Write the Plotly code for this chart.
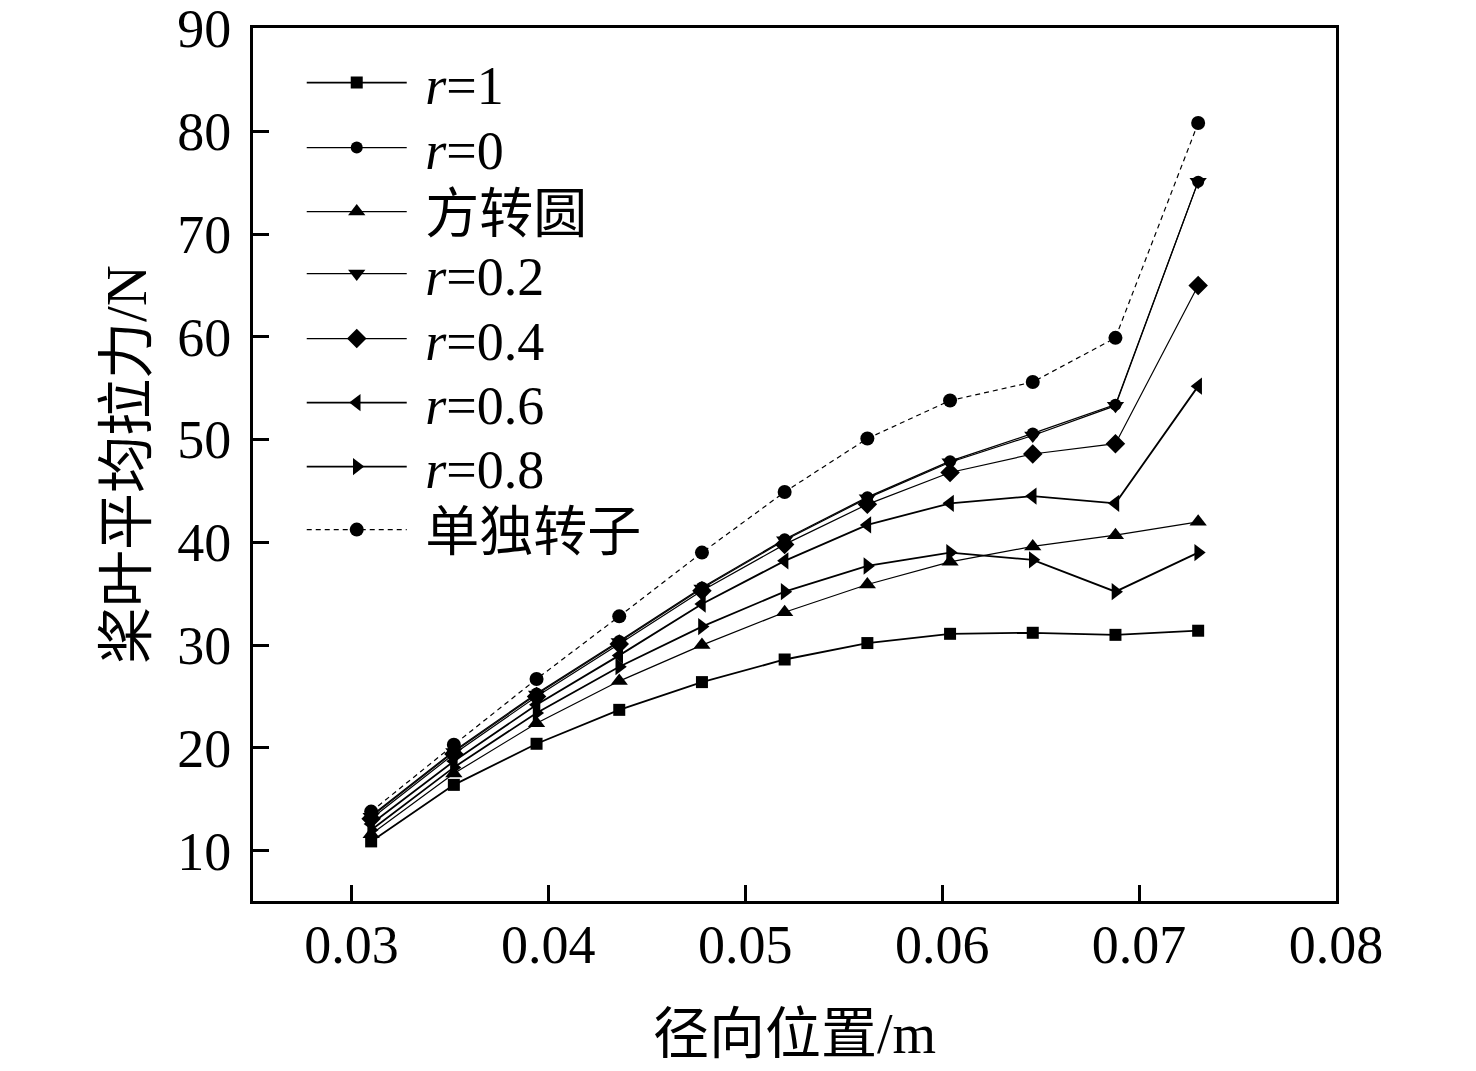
import plotly.graph_objects as go

# radial position (m)
radius = [0.031, 0.0352, 0.0394, 0.0436, 0.0478, 0.052, 0.0562, 0.0604, 0.0646, 0.0688, 0.073]

# mean blade thrust (N) per case
thrust_r1 = [10.9, 16.4, 20.4, 23.7, 26.4, 28.6, 30.2, 31.1, 31.2, 31.0, 31.4]
thrust_r0 = [13.4, 19.7, 25.3, 30.4, 35.6, 40.3, 44.4, 47.9, 50.6, 53.4, 75.1]
thrust_square_round = [11.6, 17.5, 22.4, 26.5, 30.0, 33.2, 35.9, 38.1, 39.6, 40.7, 42.0]
thrust_r02 = [13.3, 19.6, 25.2, 30.3, 35.5, 40.2, 44.3, 47.8, 50.4, 53.3, 75.1]
thrust_r04 = [13.1, 19.4, 25.0, 30.1, 35.3, 39.8, 43.7, 46.8, 48.6, 49.6, 65.0]
thrust_r06 = [12.6, 18.7, 24.2, 29.0, 34.0, 38.2, 41.7, 43.8, 44.5, 43.8, 55.2]
thrust_r08 = [12.0, 18.1, 23.4, 27.9, 31.8, 35.2, 37.7, 39.0, 38.3, 35.2, 39.0]
thrust_rotor_only = [13.8, 20.3, 26.7, 32.8, 39.0, 44.9, 50.1, 53.8, 55.6, 59.9, 80.8]

series = [
    ("<i>r</i>=1", thrust_r1, "square", 12, 1.8, "solid"),
    ("<i>r</i>=0", thrust_r0, "circle", 12, 1.2, "solid"),
    ("方转圆", thrust_square_round, "triangle-up", 15, 1.2, "solid"),
    ("<i>r</i>=0.2", thrust_r02, "triangle-down", 15, 1.2, "solid"),
    ("<i>r</i>=0.4", thrust_r04, "diamond", 15, 1.2, "solid"),
    ("<i>r</i>=0.6", thrust_r06, "triangle-left", 15, 1.8, "solid"),
    ("<i>r</i>=0.8", thrust_r08, "triangle-right", 15, 1.8, "solid"),
    ("单独转子", thrust_rotor_only, "circle", 14, 1.2, "5px,4px"),
]

FONT = "Liberation Serif, 'Times New Roman', 'Noto Sans CJK SC', serif"

# figure geometry (px)
W, H = 1476, 1071
M_L, M_R, M_T, M_B = 253, 140, 28, 170
plot_h = H - M_T - M_B
# centre rows of the legend entries, in page pixels
legend_rows = [83, 148, 212, 274, 339, 403, 467, 530]

fig = go.Figure()
for i, (name, vals, symbol, size, width, dash) in enumerate(series):
    fig.add_trace(
        go.Scatter(
            x=radius,
            y=vals,
            mode="lines+markers",
            name="\u00a0" + name,
            line={"color": "black", "width": width, "dash": dash},
            marker={"symbol": symbol, "size": size, "color": "black"},
            legend="legend" if i == 0 else f"legend{i + 1}",
        )
    )

axis_common = dict(
    showline=True,
    linecolor="black",
    linewidth=3,
    mirror=True,
    ticks="inside",
    ticklen=16,
    tickwidth=3,
    tickcolor="black",
    showgrid=False,
    zeroline=False,
    automargin=False,
    ticklabeloverflow="allow",
    tickfont={"family": FONT, "size": 54, "color": "black"},
)

fig.update_xaxes(
    range=[0.025, 0.08],
    tickvals=[0.03, 0.04, 0.05, 0.06, 0.07, 0.08],
    ticktext=["0.03", "0.04", "0.05", "0.06", "0.07", "0.08"],
    title={"text": "径向位置/m", "font": {"family": FONT, "size": 56, "color": "black"}, "standoff": 41},
    ticklabelstandoff=-6,
    **axis_common,
)
fig.update_yaxes(
    range=[5.1, 90.05],
    tickvals=[10, 20, 30, 40, 50, 60, 70, 80, 90],
    title={"text": "桨叶平均拉力/N", "font": {"family": FONT, "size": 57, "color": "black"}, "standoff": 13},
    ticklabelstandoff=8,
    **axis_common,
)

legends = {}
for i, row in enumerate(legend_rows):
    key = "legend" if i == 0 else f"legend{i + 1}"
    legends[key] = {
        "x": 0.045,
        "y": 1 - (row - M_T) / plot_h,
        "xanchor": "left",
        "yanchor": "middle",
        "bgcolor": "rgba(0,0,0,0)",
        "font": {"family": FONT, "size": 54, "color": "black"},
        "itemwidth": 100,
    }

fig.update_layout(
    width=W,
    height=H,
    margin={"l": M_L, "r": M_R, "t": M_T, "b": M_B},
    paper_bgcolor="white",
    plot_bgcolor="white",
    showlegend=True,
    **legends,
)

fig.write_html(
    "out.html",
    config={"displayModeBar": False},
    post_script="document.body.style.margin='0';",
)
